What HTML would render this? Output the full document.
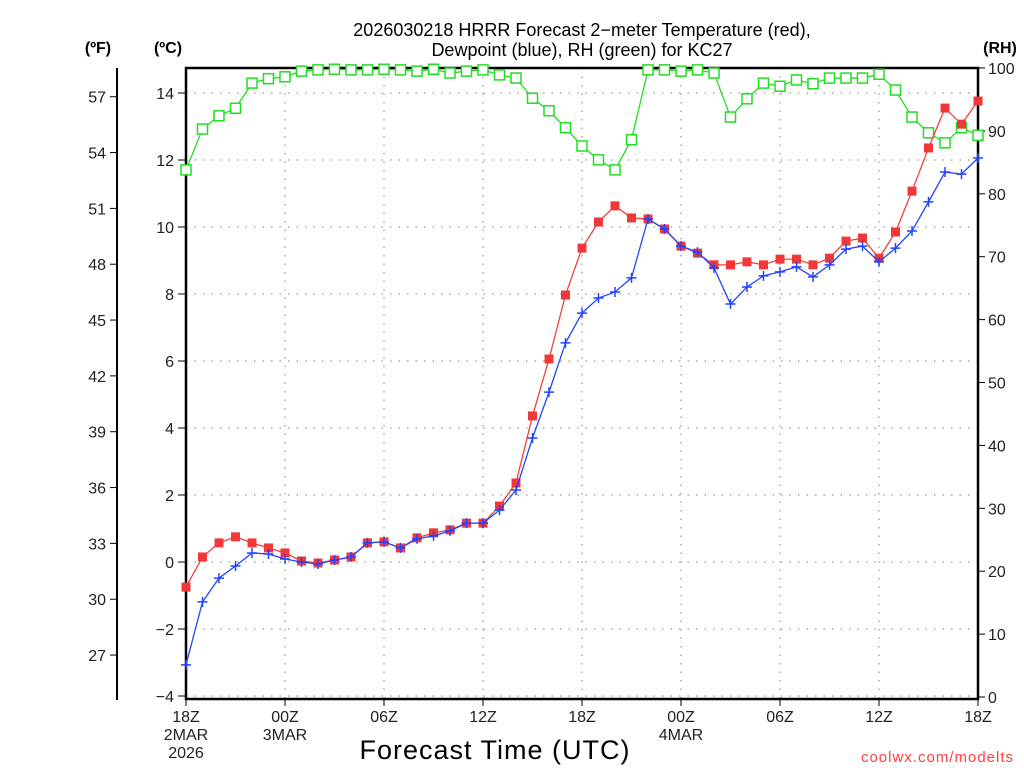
<!DOCTYPE html>
<html><head><meta charset="utf-8"><style>
html,body{margin:0;padding:0;background:#fff;}
svg{display:block;font-family:"Liberation Sans","DejaVu Sans",sans-serif;}
</style></head><body>
<svg id="chart" width="1024" height="768" viewBox="0 0 1024 768" xmlns="http://www.w3.org/2000/svg">
<rect width="1024" height="768" fill="#fff"/>
<text x="582" y="36" text-anchor="middle" font-size="18" fill="#000">2026030218 HRRR Forecast 2−meter Temperature (red),</text>
<text x="582" y="56" text-anchor="middle" font-size="18" fill="#000">Dewpoint (blue), RH (green) for KC27</text>
<text x="98" y="53" text-anchor="middle" font-size="16" font-weight="bold">(ºF)</text>
<text x="168" y="53" text-anchor="middle" font-size="16" font-weight="bold">(ºC)</text>
<text x="1000" y="53" text-anchor="middle" font-size="16" font-weight="bold">(RH)</text>
<text x="495" y="759" text-anchor="middle" font-size="27" letter-spacing="1">Forecast Time (UTC)</text>
<text x="1014" y="762" text-anchor="end" font-size="15" fill="#ff4040" letter-spacing="1">coolwx.com/modelts</text>
<g id="grid"></g><g id="axes"></g><g id="series"></g>
</svg>
<script>
const hours = [0,1,2,3,4,5,6,7,8,9,10,11,12,13,14,15,16,17,18,19,20,21,22,23,24,25,26,27,28,29,30,31,32,33,34,35,36,37,38,39,40,41,42,43,44,45,46,47,48];
const tempC = [-0.75,0.15,0.57,0.75,0.57,0.42,0.27,0.03,-0.03,0.06,0.15,0.57,0.6,0.42,0.72,0.87,0.96,1.16,1.16,1.67,2.36,4.36,6.06,7.97,9.37,10.15,10.63,10.27,10.24,9.94,9.43,9.22,8.87,8.87,8.96,8.87,9.04,9.04,8.87,9.07,9.58,9.67,9.07,9.85,11.07,12.36,13.55,13.07,13.76];
const dewC = [-3.07,-1.19,-0.48,-0.12,0.27,0.24,0.09,0,-0.06,0.06,0.15,0.57,0.6,0.42,0.69,0.78,0.93,1.16,1.16,1.55,2.15,3.7,5.07,6.54,7.43,7.88,8.06,8.48,10.24,9.94,9.43,9.25,8.78,7.7,8.21,8.54,8.66,8.81,8.51,8.87,9.34,9.43,8.96,9.37,9.88,10.75,11.64,11.58,12.06];
const rh = [83.8,90.3,92.4,93.6,97.6,98.3,98.6,99.5,99.7,99.8,99.7,99.7,99.8,99.7,99.5,99.8,99.2,99.5,99.7,98.9,98.4,95.2,93.2,90.5,87.6,85.4,83.8,88.6,99.7,99.7,99.5,99.7,99.2,92.2,95.1,97.6,97.1,98.1,97.5,98.4,98.4,98.4,99.0,96.5,92.2,89.7,88.1,90.5,89.3];
const cTicks = [-4,-2,0,2,4,6,8,10,12,14];
const fTicks = [27,30,33,36,39,42,45,48,51,54,57];
const rhTicks = [0,10,20,30,40,50,60,70,80,90,100];
const xTickHours = [0,6,12,18,24,30,36,42,48];
const xTickLabels = ["18Z","00Z","06Z","12Z","18Z","00Z","06Z","12Z","18Z"];
const xSubLabels = [["2MAR","2026"],["3MAR"],[],[],[],["4MAR"],[],[],[]];

const L=186,R=978,T=68,B=699;
const xs=h=>L+h*(R-L)/48;
const yc=c=>562-c*33.5;
const yr=v=>697-v*(697-T)/100;
const NS="http://www.w3.org/2000/svg";
function mk(tag,attrs,parent){const e=document.createElementNS(NS,tag);for(const k in attrs)e.setAttribute(k,attrs[k]);parent.appendChild(e);return e;}
const grid=document.getElementById('grid'),axes=document.getElementById('axes'),ser=document.getElementById('series');

cTicks.forEach(c=>{
  const g=mk('line',{x1:L,x2:R,y1:yc(c),y2:yc(c),stroke:'#aaa','stroke-width':1.5,'stroke-dasharray':'1.5 7'},grid);
  
  
  const t=mk('line',{x1:L-8,x2:L,y1:yc(c),y2:yc(c),stroke:'#000','stroke-width':1},axes);
  
  
  const lb=mk('text',{x:L-12,y:yc(c)+6,'text-anchor':'end','font-size':16,fill:'#222'},axes);
  lb.textContent=String(c).replace('-','\u2212');
  
  
});
xTickHours.forEach((h,i)=>{
  if(i>0&&i<xTickHours.length-1){
    const g=mk('line',{x1:xs(h),x2:xs(h),y1:T,y2:B,stroke:'#aaa','stroke-width':1.5,'stroke-dasharray':'1.5 7'},grid);
    
    
  }
  const t=mk('line',{x1:xs(h),x2:xs(h),y1:B,y2:B+7,stroke:'#000','stroke-width':1},axes);
  
  
  const lb=mk('text',{x:xs(h),y:722,'text-anchor':'middle','font-size':16,fill:'#222'},axes);
  lb.textContent=xTickLabels[i];
  
  
  xSubLabels[i].forEach((s,j)=>{
    const sl=mk('text',{x:xs(h),y:740+j*18,'text-anchor':'middle','font-size':16,fill:'#222'},axes);
    sl.textContent=s;
    
    
  });
});
fTicks.forEach(f=>{
  const y=yc((f-32)*5/9);
  const t=mk('line',{x1:110,x2:117,y1:y,y2:y,stroke:'#000','stroke-width':1},axes);
  
  
  const lb=mk('text',{x:106,y:y+6,'text-anchor':'end','font-size':16,fill:'#222'},axes);
  lb.textContent=f;
  
  
});
rhTicks.forEach(v=>{
  const t=mk('line',{x1:R,x2:R+7,y1:yr(v),y2:yr(v),stroke:'#000','stroke-width':1},axes);
  
  
  const lb=mk('text',{x:R+10,y:yr(v)+6,'text-anchor':'start','font-size':16,fill:'#222'},axes);
  lb.textContent=v;
  
  
});
const fa=mk('line',{x1:117,x2:117,y1:T,y2:B+1,stroke:'#000','stroke-width':2},axes);


const fr=mk('rect',{x:L,y:T,width:R-L,height:B-T,fill:'none',stroke:'#000','stroke-width':2.5},axes);



function line(vals,yf,color,name){
  const p=mk('polyline',{points:vals.map((v,i)=>xs(hours[i])+','+yf(v)).join(' '),fill:'none',stroke:color,'stroke-width':1.3},ser);
  
  
}
line(rh,yr,'#22dd22','rh-line');
rh.forEach((v,i)=>{
  const m=mk('rect',{x:xs(hours[i])-5,y:yr(v)-5,width:10,height:10,fill:'#fff',stroke:'#22dd22','stroke-width':1.5},ser);
  
  
});
line(tempC,yc,'#f04040','temperature-line');
tempC.forEach((v,i)=>{
  const m=mk('rect',{x:xs(hours[i])-4.5,y:yc(v)-4.5,width:9,height:9,fill:'#f03838'},ser);
  
  
});
line(dewC,yc,'#2244ff','dewpoint-line');
dewC.forEach((v,i)=>{
  const x=xs(hours[i]),y=yc(v);
  const m=mk('path',{d:`M${x-5},${y}H${x+5}M${x},${y-5}V${y+5}`,stroke:'#2244ff','stroke-width':1.5,fill:'none'},ser);
  
  
});
</script>
</body></html>
